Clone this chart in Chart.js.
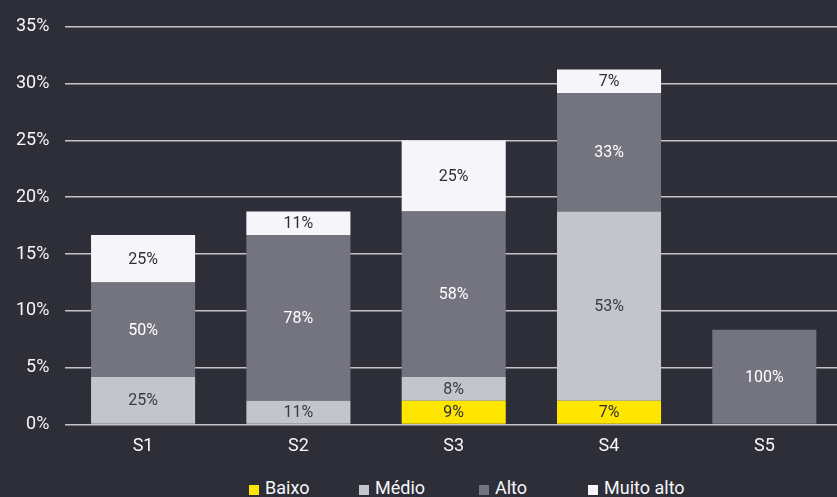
<!DOCTYPE html>
<html>
<head>
<meta charset="utf-8">
<script src="https://cdn.jsdelivr.net/npm/chart.js@4/dist/chart.umd.min.js"></script>
<style>
	html, body {
		margin: 0;
		padding: 0;
		background: #2e2e38;
		overflow: hidden;
	}
	#wrap {
		position: relative;
		width: 842px;
		height: 497px;
	}
	#legend {
		position: absolute;
		left: 249px;
		top: 478px;
		display: flex;
		font-family: Roboto, sans-serif;
		font-size: 18px;
		color: #f6f6fa;
		line-height: 20px;
	}
	#legend span.item {
		display: flex;
		align-items: center;
	}
	#legend span.box {
		display: inline-block;
		width: 10px;
		height: 10px;
		margin-right: 6px;
		margin-top: 3px;
	}
</style>
</head>
<body>
<div id="wrap">
	<canvas id="myChart" width="842" height="470"></canvas>
	<div id="legend"></div>
</div>
<script>
// categorias
var categorias = ['S1', 'S2', 'S3', 'S4', 'S5'];

// altura de cada segmento em % (eixo y)
var baixo = [0, 0, 2.083, 2.083, 0];
var medio = [4.167, 2.083, 2.083, 16.667, 0];
var alto = [8.333, 14.583, 14.583, 10.417, 8.333];
var muitoAlto = [4.167, 2.083, 6.25, 2.083, 0];

// peso de cada segmento dentro da barra (rótulos)
var baixoPct = [null, null, 9, 7, null];
var medioPct = [25, 11, 8, 53, null];
var altoPct = [50, 78, 58, 33, 100];
var muitoAltoPct = [25, 11, 25, 7, null];

var nomes = ['Baixo', 'Médio', 'Alto', 'Muito alto'];
var cores = ['#ffe600', '#c4c4cd', '#747480', '#f6f6fa'];
var coresTexto = ['#2e2e38', '#3a3a44', '#ffffff', '#2e2e38'];
var larguraLegenda = [110, 120, 109, 0];

var yTicks = [0, 5, 10, 15, 20, 25, 30, 35];

var series = [baixo, medio, alto, muitoAlto];
var rotulos = [baixoPct, medioPct, altoPct, muitoAltoPct];

var datasets = [];
for (let i = 0; i < series.length; i++) {
	datasets.push({
		label: nomes[i],
		data: series[i],
		pct: rotulos[i],
		backgroundColor: cores[i],
		textColor: coresTexto[i],
		borderWidth: 0,
		categoryPercentage: 1,
		barPercentage: 0.67
	});
}

// desenha o % no meio de cada segmento
var rotuloPlugin = {
	id: 'rotulos',
	afterDatasetsDraw(chart) {
		var ctx = chart.ctx;
		ctx.save();
		ctx.font = '16px Roboto, sans-serif';
		ctx.textAlign = 'center';
		ctx.textBaseline = 'middle';
		chart.data.datasets.forEach(function (ds, i) {
			var meta = chart.getDatasetMeta(i);
			meta.data.forEach(function (bar, j) {
				var p = ds.pct[j];
				if (p === null || !ds.data[j]) return;
				var props = bar.getProps(['x', 'y', 'base'], true);
				ctx.fillStyle = ds.textColor;
				ctx.fillText(p + '%', props.x, (props.y + props.base) / 2 + 1);
			});
		});
		ctx.restore();
	}
};

var ctx = document.getElementById('myChart');
var chart = new Chart(ctx, {
	type: 'bar',
	data: {
		labels: categorias,
		datasets: datasets
	},
	options: {
		responsive: false,
		animation: false,
		layout: {
			padding: { top: 4, right: 0, bottom: 10, left: 0 }
		},
		plugins: {
			legend: { display: false },
			tooltip: { enabled: false }
		},
		scales: {
			x: {
				stacked: true,
				grid: { display: false },
				border: { display: false },
				ticks: {
					color: '#f6f6fa',
					padding: 3,
					font: { family: 'Roboto', size: 18 }
				}
			},
			y: {
				stacked: true,
				min: 0,
				max: 35,
				afterBuildTicks: function (scale) {
					scale.ticks = yTicks.map(v => ({ value: v }));
				},
				grid: {
					color: '#c4c4c8',
					lineWidth: 1.5,
					drawTicks: false
				},
				border: { display: false },
				ticks: {
					color: '#f6f6fa',
					padding: 16,
					font: { family: 'Roboto', size: 18 },
					callback: v => v + '%'
				}
			}
		}
	},
	plugins: [rotuloPlugin]
});

// legenda
var legenda = document.getElementById('legend');
for (let i = 0; i < nomes.length; i++) {
	var item = document.createElement('span');
	item.className = 'item';
	if (larguraLegenda[i]) item.style.width = larguraLegenda[i] + 'px';
	item.innerHTML = '<span class="box" style="background:' + cores[i] + '"></span>' + nomes[i];
	legenda.appendChild(item);
}
</script>
</body>
</html>
